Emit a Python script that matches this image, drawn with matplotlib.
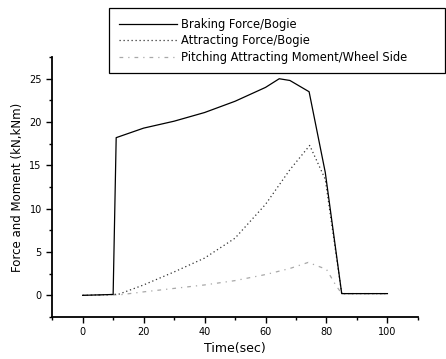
import numpy as np
import matplotlib.pyplot as plt
from matplotlib.ticker import MultipleLocator

# values
t_brake = [0, 10, 11, 20, 30, 40, 50, 60, 64.5, 68, 74.3, 79.6, 85, 100]
brake = [0, 0.1, 18.2, 19.3, 20.1, 21.1, 22.4, 24.0, 25.0, 24.8, 23.5, 14.2, 0.2, 0.2]

t_attr = [0, 10, 12, 20, 30, 40, 50, 60, 68, 74.5, 79.6, 85, 100]
attr = [0, 0.1, 0.15, 1.2, 2.7, 4.3, 6.6, 10.5, 14.5, 17.3, 13.4, 0.2, 0.2]

t_pitch = [0, 10, 12, 20, 30, 40, 50, 60, 68, 74, 80, 83, 85, 100]
pitch = [0, 0.05, 0.05, 0.4, 0.8, 1.2, 1.7, 2.4, 3.1, 3.8, 3.0, 1.2, 0.2, 0.2]

labels = ['Braking Force/Bogie', 'Attracting Force/Bogie',
          'Pitching Attracting Moment/Wheel Side']

fig = plt.figure(figsize=(4.46, 3.59), dpi=100)
ax = fig.add_axes([0.117, 0.117, 0.82, 0.724])

l3, = ax.plot(t_pitch, pitch, color='#a8a8a8', lw=0.9, linestyle=(0, (3, 4, 1, 4)))
l2, = ax.plot(t_attr, attr, color='#333333', lw=0.9, linestyle=(0, (1, 2.2)))
l1, = ax.plot(t_brake, brake, color='black', lw=0.9)

ax.set_xlim(-10, 110)
ax.set_ylim(-2.5, 27.5)
ax.xaxis.set_major_locator(MultipleLocator(20))
ax.xaxis.set_minor_locator(MultipleLocator(10))
ax.yaxis.set_major_locator(MultipleLocator(5))
ax.yaxis.set_minor_locator(MultipleLocator(2.5))
ax.tick_params(which='major', direction='out', length=4, width=1, labelsize=7)
ax.tick_params(which='minor', direction='out', length=2.5, width=1)
ax.spines['top'].set_visible(False)
ax.spines['right'].set_visible(False)
ax.spines['left'].set_linewidth(1.3)
ax.spines['bottom'].set_linewidth(1.3)

ax.set_xlabel('Time(sec)', fontsize=9, labelpad=3)
ax.set_ylabel('Force and Moment (kN,kNm)', fontsize=8.5, labelpad=4)

leg = fig.legend([l1, l2, l3], labels, loc='upper left',
                 bbox_to_anchor=(0.244, 0.978, 0.753, 0.0), mode='expand',
                 borderaxespad=0, fontsize=8.3, handlelength=5.1,
                 handletextpad=0.3, labelspacing=0.3,
                 borderpad=0.85, fancybox=False, framealpha=1)
leg.get_frame().set_edgecolor('black')
leg.get_frame().set_linewidth(0.9)

fig.savefig('out.png', dpi=100)
